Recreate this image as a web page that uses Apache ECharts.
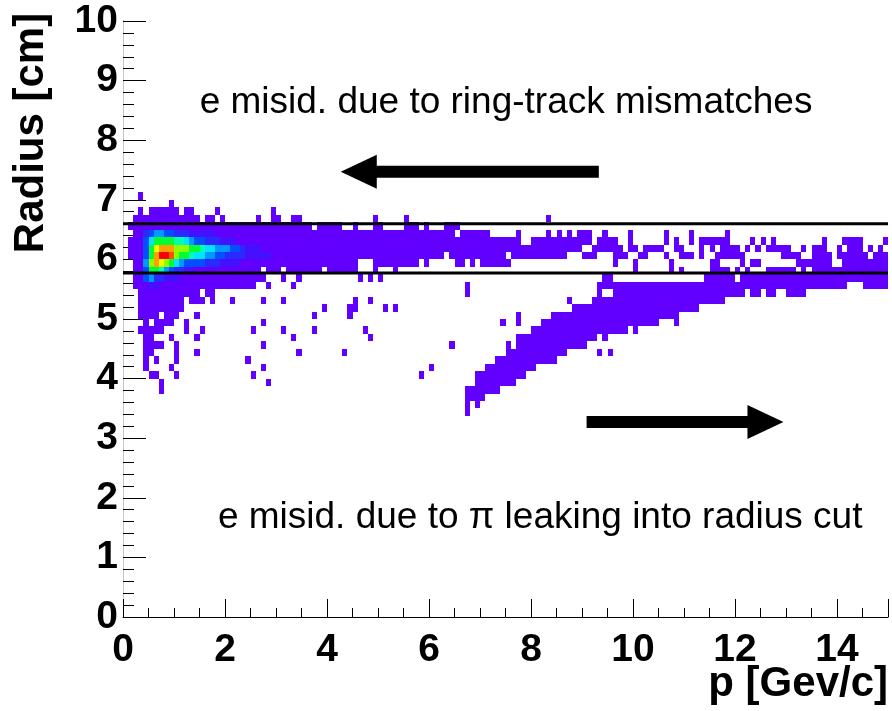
<!DOCTYPE html>
<html><head><meta charset="utf-8">
<script src="https://cdn.jsdelivr.net/npm/echarts@6/dist/echarts.min.js"></script>
<style>html,body{margin:0;padding:0;background:#fff}#c{width:892px;height:711px}</style>
</head><body><div id="c"></div>
<script>
// ---- histogram binning (p: 0.1 GeV/c bins, radius: 0.125 cm bins) ----
const X_BIN = 0.1;
const Y_BIN = 0.125;

// occupied bins per radius row: [rowIndex, "colFrom-colTo,col,..."] (lowest colour level)
const rowBins = [
  [56,"3"],
  [55,"9"],
  [54,"3,5-10,12-13,18,29"],
  [53,"2-14,16-17,19,26,29-30,33-34,49,55,83"],
  [52,"1-36,38-42,45,49-50,55-57,59,63-65"],
  [51,"2-64,66-71,77,83,85,87,89-91,94,99,106,111,118"],
  [50,"1-77,80-91,93-96,99,106,108,111,113-118,123,125,127,137,141-144,149"],
  [49,"1-89,92-97,99-100,102-105,108-109,113,115,117-120,122,124,126-130,133,135-137,140,142-144,146,148"],
  [48,"1-62,64-74,76-86,90-92,96-98,101-102,106,109-111,113,116-121,129-132,135-138,140-145,147-149"],
  [47,"2-45,49-57,59,65-66,68,70-75,96,100,107,115-116,121,123-124,132-138,141-149"],
  [46,"2-26,28-30,32-38,40-45,49,53,100,107,109,115-118,120,122,126-131,133,135-149"],
  [45,"2-27,31,34,46,48,50,94-95,114-119,121-149"],
  [44,"2-25,28,33,67,93-141,145-149"],
  [43,"3-14,16-17,67,93,96-121,123-124,126-127,130-133"],
  [42,"3-11,13-15,17,21,27,31,45,48,87,92-117"],
  [41,"3-11,39,44-45,51,53,88-112"],
  [40,"3-6,8-10,14,37,44,77,84-108"],
  [39,"4,6-9,12,27,74,77,82-104,108"],
  [38,"3-7,12,15,25,31,37,47,80-98,100"],
  [37,"4-5,9,14,33,48,77-92,94"],
  [36,"4-7,10,27,64,75,77-90"],
  [35,"4-5,10,14,34,43,75-86,93,95"],
  [34,"4,6,10,24,73-84"],
  [33,"4,9,27,60,71-80"],
  [32,"5-6,10,25,58,69-78"],
  [31,"7,28,69-76"],
  [30,"7,67-73"],
  [29,"67-70"],
  [28,"67,69"],
  [27,"67"]
];

// bin content levels (hex digit per column, starting at column 0) in the dense low-p core
const coreRows = [
  [51,"111134554433322222"],
  [50,"1111468888776544333222"],
  [49,"111148ABBB99988766555443222"],
  [48,"111148BDDC9887665544333322222"],
  [47,"111159BA986544443332222"],
  [46,"11114887543322"],
  [45,"11114533222"],
  [44,"1111122"]
];

// radius cut lines (cm)
const cutLines = [6.6, 5.77];

// tick steps
const xTickStep = 2;
const yTickStep = 1;

// ---- styling ----
const palette = ['#6100ff','#4410ff','#2a2aff','#0050ff','#0098ff','#00e4ff','#00ffb0','#00ff30','#90ff00','#e8ff00','#ffa000','#ff5000','#ff0000'];
const FONT = '"Liberation Sans", Arial, Helvetica, sans-serif';

const coreMap = {};
coreRows.forEach(([j, s]) => { coreMap[j] = s; });
const cells = [];
rowBins.forEach(([j, spec]) => {
  const core = coreMap[j] || '';
  spec.split(',').forEach(part => {
    const ab = part.split('-').map(Number);
    const a = ab[0], b = ab.length > 1 ? ab[1] : ab[0];
    for (let i = a; i <= b; i++) {
      const ch = core[i];
      const lv = ch ? parseInt(ch, 16) : 1;
      cells.push([i * X_BIN, j * Y_BIN, lv]);
    }
  });
});

function renderItem(params, api) {
  const x0 = api.value(0), y0 = api.value(1), lv = api.value(2);
  const a = api.coord([x0, y0 + Y_BIN]);
  const b = api.coord([x0 + X_BIN, y0]);
  const x = Math.round(a[0]), y = Math.round(a[1]);
  return {
    type: 'rect',
    shape: { x: x, y: y, width: Math.round(b[0]) - x, height: Math.round(b[1]) - y },
    style: { fill: palette[lv - 1] }
  };
}

const chart = echarts.init(document.getElementById('c'), null, { renderer: 'canvas' });
const option = {
  animation: false,
  backgroundColor: '#fff',
  grid: { left: 123, right: 4, top: 21, bottom: 94 },
  xAxis: {
    type: 'value', min: 0, max: 15, interval: xTickStep,
    axisLine: { show: true, onZero: false, lineStyle: { color: '#000', width: 1 } },
    axisTick: { show: true, inside: true, length: 18, lineStyle: { color: '#000' } },
    minorTick: { show: true, splitNumber: 4, length: 9, lineStyle: { color: '#000' } },
    splitLine: { show: false }, minorSplitLine: { show: false },
    axisLabel: { fontSize: 39, fontWeight: 'bold', fontFamily: FONT, color: '#000', margin: 14, showMaxLabel: false }
  },
  yAxis: [{
    type: 'value', min: 0, max: 10, interval: yTickStep,
    axisLine: { show: true, onZero: false, lineStyle: { color: '#000', width: 1 } },
    axisTick: { show: true, inside: true, length: 23, lineStyle: { color: '#000' } },
    minorTick: { show: true, splitNumber: 5, length: 11, lineStyle: { color: '#000' } },
    splitLine: { show: false }, minorSplitLine: { show: false },
    axisLabel: { fontSize: 39, fontWeight: 'bold', fontFamily: FONT, color: '#000', margin: 5 }
  }, {
    type: 'value', min: 0, max: 10, position: 'right',
    axisLine: { show: true, lineStyle: { color: '#c8c8c8', width: 1 } },
    axisTick: { show: false }, axisLabel: { show: false }, splitLine: { show: false }
  }],
  series: [
    { type: 'custom', renderItem: renderItem, data: cells, encode: { x: 0, y: 1 }, clip: true, silent: true, z: 2 }
  ].concat(cutLines.map(v => ({
    type: 'line', data: [[0, v], [15, v]], symbol: 'none', silent: true, z: 3,
    lineStyle: { color: '#000', width: 3 }
  })))
};
chart.setOption(option);

// ---- annotations placed in data coordinates ----
const arrows = [
  { from: [9.33, 7.47], to: [4.27, 7.47] },
  { from: [9.09, 3.27], to: [12.95, 3.27] }
];
const notes = [
  { text: 'e misid. due to ring-track mismatches', at: [7.51, 8.62] },
  { text: 'e misid. due to \u03c0 leaking into radius cut', at: [8.18, 1.66] }
];
const toPx = v => chart.convertToPixel({ seriesIndex: 1 }, v);
const graphics = [];
arrows.forEach(a => {
  const t = toPx(a.from), h = toPx(a.to);
  const dir = h[0] > t[0] ? 1 : -1;
  const hl = 36, s = 6, hh = 17, y = t[1];
  const bx = h[0] - dir * hl;
  graphics.push({
    type: 'polygon', silent: true, z: 10,
    shape: { points: [[t[0], y - s], [bx, y - s], [bx, y - hh], [h[0], y], [bx, y + hh], [bx, y + s], [t[0], y + s]] },
    style: { fill: '#000' }
  });
});
notes.forEach(n => {
  const p = toPx(n.at);
  graphics.push({
    type: 'text', silent: true, z: 10, x: p[0], y: p[1],
    style: { text: n.text, fontSize: 37, fontFamily: FONT, fill: '#000', align: 'center', verticalAlign: 'middle' }
  });
});
graphics.push({
  type: 'text', silent: true, z: 10, x: 31, y: 133, rotation: Math.PI / 2,
  style: { text: 'Radius [cm]', fontSize: 42, fontWeight: 'bold', fontFamily: FONT, fill: '#000', align: 'center', verticalAlign: 'middle' }
});
graphics.push({
  type: 'text', silent: true, z: 10, x: 888, y: 684,
  style: { text: 'p [Gev/c]', fontSize: 42, fontWeight: 'bold', fontFamily: FONT, fill: '#000', align: 'right', verticalAlign: 'middle' }
});
chart.setOption({ graphic: graphics });
</script></body></html>
